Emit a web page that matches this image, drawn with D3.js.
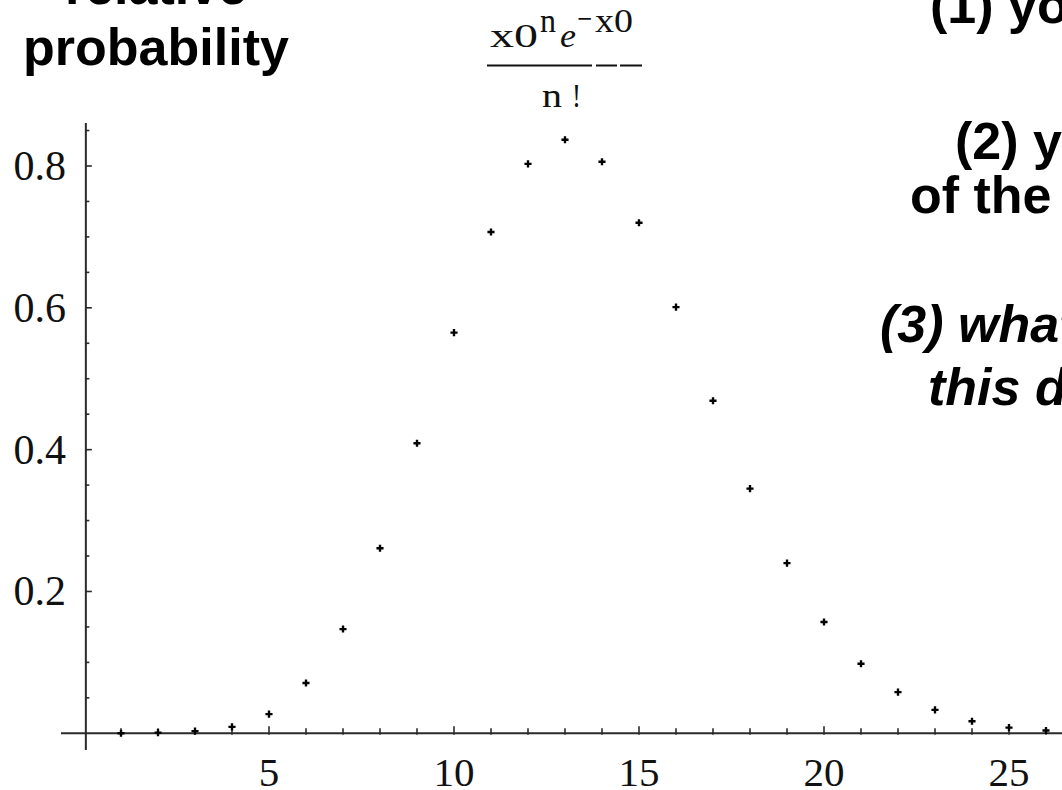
<!DOCTYPE html>
<html>
<head>
<meta charset="utf-8">
<script src="https://cdn.jsdelivr.net/npm/d3@7"></script>
<style>
  html, body { margin: 0; padding: 0; background: #fff; overflow: hidden; }
  svg { display: block; }
</style>
</head>
<body>
<svg id="chart" width="1062" height="790"></svg>
<script>
// ---- data ----
const nValues = [1, 2, 3, 4, 5, 6, 7, 8, 9, 10, 11, 12, 13, 14, 15, 16, 17, 18, 19, 20, 21, 22, 23, 24, 25, 26];
const probValues = [0.000, 0.001, 0.003, 0.009, 0.027, 0.071, 0.147, 0.261, 0.409, 0.565, 0.707, 0.803, 0.837, 0.806, 0.720, 0.601, 0.469, 0.345, 0.240, 0.157, 0.098, 0.058, 0.033, 0.017, 0.008, 0.004];
const xMajorTicks = [5, 10, 15, 20, 25];
const xMinorTicks = d3.range(1, 29);
const yMajorTicks = [0.2, 0.4, 0.6, 0.8];
const yMinorTicks = [0.05, 0.1, 0.15, 0.25, 0.3, 0.35, 0.45, 0.5, 0.55, 0.65, 0.7, 0.75, 0.85];
const yTitleLines = ["relative", "probability"];
const sideNotes = [
  { text: "(1) you", x: 930, y: 23, italic: false },
  { text: "(2) you", x: 955, y: 159, italic: false },
  { text: "of the", x: 910, y: 213, italic: false },
  { text: "(3) what", x: 880, y: 342, italic: true },
  { text: "this d", x: 928, y: 405, italic: true }
];

const svg = d3.select("#chart");
const serif = "'Liberation Serif', 'Times New Roman', serif";
const sans = "'Liberation Sans', Arial, sans-serif";

// scales
const x = d3.scaleLinear().domain([0, 26]).range([84, 1046]);
const y = d3.scaleLinear().domain([0, 0.8]).range([733.3, 166]);
const axisX0 = x(0.05);   // vertical axis position
const axisY0 = y(0);      // horizontal axis position
const axisColor = "#2a2a2a";

// horizontal axis line
svg.append("line")
  .attr("x1", 61).attr("x2", 1070)
  .attr("y1", axisY0).attr("y2", axisY0)
  .attr("stroke", axisColor).attr("stroke-width", 2);
// vertical axis line
svg.append("line")
  .attr("x1", axisX0).attr("x2", axisX0)
  .attr("y1", 123).attr("y2", 750)
  .attr("stroke", axisColor).attr("stroke-width", 2);

// x ticks
svg.append("g").selectAll("line").data(xMinorTicks).join("line")
  .attr("x1", d => x(d)).attr("x2", d => x(d))
  .attr("y1", axisY0 + 1.5).attr("y2", d => axisY0 - (d % 5 === 0 ? 7 : 5))
  .attr("stroke", axisColor).attr("stroke-width", 1.6);
// y ticks
svg.append("g").selectAll("line").data(yMinorTicks.concat(yMajorTicks)).join("line")
  .attr("x1", axisX0).attr("x2", d => axisX0 + (yMajorTicks.includes(d) ? 6 : 3.5))
  .attr("y1", d => y(d)).attr("y2", d => y(d))
  .attr("stroke", axisColor).attr("stroke-width", 1.6);

// tick labels
svg.append("g").selectAll("text").data(xMajorTicks).join("text")
  .attr("x", d => x(d)).attr("y", 786)
  .attr("text-anchor", "middle")
  .attr("font-family", serif).attr("font-size", 41).attr("fill", "#111")
  .text(d => d);
svg.append("g").selectAll("text").data(yMajorTicks).join("text")
  .attr("x", 66).attr("y", d => y(d) + 14)
  .attr("text-anchor", "end")
  .attr("font-family", serif).attr("font-size", 42).attr("fill", "#111")
  .text(d => d.toFixed(1));

// points
const cross = d3.symbol().type(d3.symbolCross).size(28);
svg.append("g").selectAll("path").data(nValues).join("path")
  .attr("transform", (d, i) => `translate(${x(d)},${y(probValues[i])})`)
  .attr("d", cross)
  .attr("fill", "#000");

// y title (bold sans, centered)
svg.append("g").selectAll("text").data(yTitleLines).join("text")
  .attr("x", 156).attr("y", (d, i) => 4 + i * 61)
  .attr("text-anchor", "middle")
  .attr("font-family", sans).attr("font-weight", "bold").attr("font-size", 52)
  .attr("fill", "#000")
  .text(d => d);

// formula label
const f = svg.append("g").attr("font-family", serif).attr("fill", "#111").attr("font-size", 34);
const piece = (txt, x0, x1, yb, italic) => f.append("text")
  .attr("x", x0).attr("y", yb)
  .attr("textLength", x1 - x0).attr("lengthAdjust", "spacingAndGlyphs")
  .attr("font-style", italic ? "italic" : "normal")
  .text(txt);
piece("x0", 490, 538, 47);
piece("n", 540, 556, 32);
piece("e", 560, 576, 47, true);
piece("\u2212", 577, 592, 30);
piece("x0", 595, 633, 32);
f.append("line").attr("x1", 487).attr("x2", 592).attr("y1", 65.5).attr("y2", 65.5)
  .attr("stroke", "#111").attr("stroke-width", 2);
f.append("line").attr("x1", 596).attr("x2", 617).attr("y1", 65.5).attr("y2", 65.5)
  .attr("stroke", "#111").attr("stroke-width", 2);
f.append("line").attr("x1", 620).attr("x2", 642).attr("y1", 65.5).attr("y2", 65.5)
  .attr("stroke", "#111").attr("stroke-width", 2);
piece("n", 542, 562, 107);
piece("!", 572, 581, 107);

// side notes (cut off at the right edge)
svg.append("g").selectAll("text").data(sideNotes).join("text")
  .attr("x", d => d.x).attr("y", d => d.y)
  .attr("font-family", sans).attr("font-weight", "bold").attr("font-size", 52)
  .attr("font-style", d => d.italic ? "italic" : "normal")
  .attr("fill", "#000")
  .text(d => d.text);
</script>
</body>
</html>
